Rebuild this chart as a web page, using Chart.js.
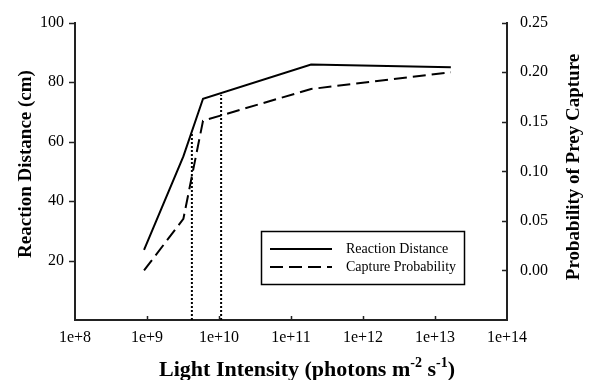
<!DOCTYPE html>
<html><head><meta charset="utf-8">
<script src="https://cdn.jsdelivr.net/npm/chart.js@4/dist/chart.umd.min.js"></script>
<style>html,body{margin:0;padding:0;background:#fff}#wrap{width:591px;height:380px;position:relative}</style>
</head><body><div id="wrap"><canvas id="c" width="591" height="380"></canvas></div>
<script>
const lightIntensity = [9.1e8, 3.2e9, 6.0e9, 1.9e11, 1.66e13];
const reactionDistance = [23.6, 55.0, 74.4, 85.9, 85.0];
const captureProbability = [0.000, 0.052, 0.151, 0.183, 0.200];
const thresholdIntensity = [4.2e9, 1.07e10];
const thresholdDistance = [63.0, 75.7];
const xTickValues = [1e8, 1e9, 1e10, 1e11, 1e12, 1e13, 1e14];
const xTickLabels = ['1e+8', '1e+9', '1e+10', '1e+11', '1e+12', '1e+13', '1e+14'];
const leftTickValues = [20, 40, 60, 80, 100];
const rightTickValues = [0, 0.05, 0.10, 0.15, 0.20, 0.25];
const seriesLabels = ['Reaction Distance', 'Capture Probability'];

const SERIF = '"Liberation Serif", "Times New Roman", serif';

const datasets = [
  { label: seriesLabels[0], data: lightIntensity.map((x, i) => ({ x, y: reactionDistance[i] })),
    yAxisID: 'y', borderColor: '#000', borderWidth: 2, pointRadius: 0, fill: false, tension: 0 },
  { label: seriesLabels[1], data: lightIntensity.map((x, i) => ({ x, y: captureProbability[i] })),
    yAxisID: 'y1', borderColor: '#000', borderWidth: 2, borderDash: [13, 6], pointRadius: 0, fill: false, tension: 0 }
];
thresholdIntensity.forEach((t, i) => {
  datasets.push({ label: '', isThreshold: true, data: [{ x: t, y: 0 }, { x: t, y: thresholdDistance[i] }],
    yAxisID: 'y', borderColor: '#000', borderWidth: 2, borderDash: [2, 2], pointRadius: 0, fill: false });
});

const decor = {
  id: 'decor',
  afterDraw(chart) {
    const ctx = chart.ctx, ca = chart.chartArea;
    const sx = chart.scales.x, sy = chart.scales.y, sy1 = chart.scales.y1;
    ctx.save();
    ctx.strokeStyle = '#222'; ctx.lineWidth = 1.5;
    ctx.beginPath();
    leftTickValues.forEach(v => { const p = Math.round(sy.getPixelForValue(v)) + 0.5; ctx.moveTo(ca.left - 6, p); ctx.lineTo(ca.left, p); });
    rightTickValues.forEach(v => { const p = Math.round(sy1.getPixelForValue(v)) + 0.5; ctx.moveTo(ca.right - 5, p); ctx.lineTo(ca.right, p); });
    xTickValues.slice(1, -1).forEach(v => { const p = Math.round(sx.getPixelForValue(v)) + 0.5; ctx.moveTo(p, ca.bottom); ctx.lineTo(p, ca.bottom - 4); });
    ctx.stroke();

    // axis titles
    ctx.fillStyle = '#000';
    ctx.textBaseline = 'alphabetic';
    const main = 'bold 22px ' + SERIF, sup = 'bold 14px ' + SERIF;
    const parts = [['Light Intensity (photons m', main, 0], ['-2', sup, -9], [' s', main, 0], ['-1', sup, -9], [')', main, 0]];
    let total = 0;
    parts.forEach(p => { ctx.font = p[1]; total += ctx.measureText(p[0]).width; });
    let x = (ca.left + ca.right) / 2 + 16 - total / 2;
    const base = 376;
    parts.forEach(p => { ctx.font = p[1]; ctx.textAlign = 'left'; ctx.fillText(p[0], x, base + p[2]); x += ctx.measureText(p[0]).width; });

    ctx.font = 'bold 19px ' + SERIF;
    ctx.textAlign = 'center'; ctx.textBaseline = 'middle';
    ctx.save(); ctx.translate(26, 164); ctx.rotate(-Math.PI / 2); ctx.fillText('Reaction Distance (cm)', 0, 0); ctx.restore();
    ctx.save(); ctx.translate(574, 167); ctx.rotate(-Math.PI / 2); ctx.fillText('Probability of Prey Capture', 0, 0); ctx.restore();

    // legend
    ctx.lineWidth = 1.5; ctx.strokeStyle = '#000';
    ctx.strokeRect(261.5, 231.5, 203, 53);
    const rows = [249, 267];
    ctx.font = '14px ' + SERIF; ctx.textAlign = 'left'; ctx.textBaseline = 'middle';
    [0, 1].forEach(i => {
      const ds = chart.data.datasets[i];
      ctx.beginPath(); ctx.lineWidth = ds.borderWidth; ctx.setLineDash(ds.borderDash || []);
      ctx.moveTo(270, rows[i]); ctx.lineTo(332, rows[i]); ctx.stroke();
      ctx.setLineDash([]);
      ctx.fillText(ds.label, 346, rows[i]);
    });
    ctx.restore();
  }
};

new Chart(document.getElementById('c'), {
  type: 'line',
  data: { datasets },
  options: {
    responsive: false, animation: false, devicePixelRatio: 1,
    layout: { padding: { top: 17, left: 0, right: 0, bottom: 0 } },
    plugins: { legend: { display: false }, tooltip: { enabled: false } },
    scales: {
      x: {
        type: 'logarithmic', position: 'bottom', min: 1e8, max: 1e14,
        grid: { display: false, drawTicks: false },
        border: { display: true, color: '#222', width: 2 },
        ticks: { font: { family: SERIF, size: 16 }, color: '#000', padding: 8, autoSkip: false, maxRotation: 0,
          callback: v => { const i = xTickValues.indexOf(v); return i >= 0 ? xTickLabels[i] : ''; } },
        afterBuildTicks: s => { s.ticks = xTickValues.map(v => ({ value: v })); },
        afterFit: s => { s.height = 60; }
      },
      y: {
        type: 'linear', position: 'left', min: 0, max: 100,
        grid: { display: false, drawTicks: false },
        border: { display: true, color: '#222', width: 2 },
        ticks: { font: { family: SERIF, size: 16 }, color: '#000', padding: 11 },
        afterBuildTicks: s => { s.ticks = leftTickValues.map(v => ({ value: v })); },
        afterFit: s => { s.width = 75; }
      },
      y1: {
        type: 'linear', position: 'right', min: -0.05, max: 0.25,
        grid: { display: false, drawTicks: false },
        border: { display: true, color: '#222', width: 2 },
        ticks: { font: { family: SERIF, size: 16 }, color: '#000', padding: 13, callback: v => Number(v).toFixed(2) },
        afterBuildTicks: s => { s.ticks = rightTickValues.map(v => ({ value: v })); },
        afterFit: s => { s.width = 84; }
      }
    }
  },
  plugins: [decor]
});
</script></body></html>
